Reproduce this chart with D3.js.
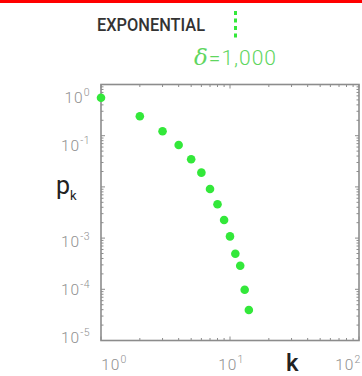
<!DOCTYPE html>
<html>
<head>
<meta charset="utf-8">
<script src="https://cdn.jsdelivr.net/npm/d3@7"></script>
<style>
  html, body { margin: 0; padding: 0; background: #fff; }
  svg { display: block; }
</style>
</head>
<body>
<div id="chart"></div>
<script>
// ── Data ──────────────────────────────────────────────────────────────────────
const kValues = [1, 2, 3, 4, 5, 6, 7, 8, 9, 10, 11, 12, 13, 14];
const pkValues = [0.55, 0.24, 0.122, 0.066, 0.0346, 0.019, 0.0091, 0.00457,
  0.00226, 0.00108, 0.000496, 0.000289, 0.000098, 0.0000393];
const xTickExps = [0, 1, 2];
const yTickExps = [0, -1, -3, -4, -5];
const titleText = 'EXPONENTIAL';
const deltaLabel = '=1,000';

// ── Setup ─────────────────────────────────────────────────────────────────────
const W = 362, H = 376;
const margin = { top: 84.5, right: 3, bottom: 35.5, left: 101 };
const green = '#33e83a';
const axisGrey = '#8c8c8c';
const labelGrey = '#8f8f8f';

const svg = d3.select('#chart').append('svg')
  .attr('width', W)
  .attr('height', H);

const x = d3.scaleLog().domain([1, 100]).range([margin.left, W - margin.right]);
const y = d3.scaleLog().domain([1e-5, 1]).range([H - margin.bottom, margin.top]);
// tick labels sit on a slightly tighter ladder than the ticks themselves
const yLabel = d3.scaleLog().domain([1e-5, 1]).range([343, 103]);
const xLabel = d3.scaleLog().domain([1, 100]).range([114, 348]);

// red strip at top
svg.append('rect')
  .attr('x', 0).attr('y', 0)
  .attr('width', W).attr('height', 3)
  .attr('fill', '#ff0000');

// ── Title ─────────────────────────────────────────────────────────────────────
svg.append('text')
  .attr('x', 97).attr('y', 31)
  .attr('font-family', 'Roboto, sans-serif')
  .attr('font-weight', 500)
  .attr('font-size', 17.5)
  .attr('fill', '#333')
  .attr('textLength', 108)
  .attr('lengthAdjust', 'spacingAndGlyphs')
  .text(titleText);

svg.append('line')
  .attr('x1', 235.5).attr('x2', 235.5)
  .attr('y1', 11).attr('y2', 38)
  .attr('stroke', green)
  .attr('stroke-width', 3)
  .attr('stroke-dasharray', '4,3.5');

const dt = svg.append('text')
  .attr('x', 194).attr('y', 65)
  .attr('font-family', 'Roboto, sans-serif')
  .attr('font-weight', 300)
  .attr('font-size', 21)
  .attr('fill', '#5fd65f')
  .attr('textLength', 82)
  .attr('lengthAdjust', 'spacing');
dt.append('tspan').attr('font-style', 'italic').attr('font-family', 'DejaVu Serif, serif').attr('font-size', 23).text('δ');
dt.append('tspan').text(deltaLabel);

// ── Frame + ticks ─────────────────────────────────────────────────────────────
const [x0, x1] = x.range();
const [y0, y1] = y.range();   // y0 = bottom, y1 = top

svg.append('rect')
  .attr('x', x0).attr('y', y1)
  .attr('width', x1 - x0).attr('height', y0 - y1)
  .attr('fill', 'none')
  .attr('stroke', axisGrey)
  .attr('stroke-width', 1.6);

const tickG = svg.append('g')
  .attr('stroke', axisGrey)
  .attr('stroke-width', 1);

function logTicks(domain) {
  const t = [];
  const lo = Math.round(Math.log10(domain[0])), hi = Math.round(Math.log10(domain[1]));
  for (let e = lo; e < hi; e++) {
    for (let m = 1; m < 10; m++) t.push({ v: m * Math.pow(10, e), major: m === 1 });
  }
  t.push({ v: Math.pow(10, hi), major: true });
  return t;
}

logTicks(x.domain()).forEach(t => {
  const px = x(t.v), len = t.major ? 4 : 2.5;
  tickG.append('line').attr('x1', px).attr('x2', px).attr('y1', y0).attr('y2', y0 - len);
  tickG.append('line').attr('x1', px).attr('x2', px).attr('y1', y1).attr('y2', y1 + len);
});
logTicks(y.domain()).forEach(t => {
  const py = y(t.v), len = t.major ? 4 : 2.5;
  tickG.append('line').attr('x1', x0).attr('x2', x0 + len).attr('y1', py).attr('y2', py);
  tickG.append('line').attr('x1', x1).attr('x2', x1 - len).attr('y1', py).attr('y2', py);
});

// ── Tick labels ───────────────────────────────────────────────────────────────
function powerLabel(g, px, py, exp, anchor) {
  const t = g.append('text')
    .attr('x', px).attr('y', py)
    .attr('text-anchor', anchor)
    .attr('font-family', 'Roboto, sans-serif')
    .attr('font-weight', 300)
    .attr('font-size', 15.5)
    .attr('letter-spacing', 1)
    .attr('fill', labelGrey);
  t.append('tspan').text('10');
  t.append('tspan').attr('font-size', 10.5).attr('dy', -7).attr('letter-spacing', 0.5).text(exp);
  return t;
}

const labelG = svg.append('g');
xTickExps.forEach(e => powerLabel(labelG, xLabel(Math.pow(10, e)), 370, String(e), 'middle'));
yTickExps.forEach(e => powerLabel(labelG, 90, yLabel(Math.pow(10, e)), e === 0 ? '0' : '-' + (-e), 'end'));

// axis titles
const pk = svg.append('text')
  .attr('x', 56).attr('y', 194)
  .attr('font-family', 'Roboto, sans-serif')
  .attr('font-size', 25)
  .attr('fill', '#222');
pk.append('tspan').text('p');
pk.append('tspan').attr('font-size', 13).attr('dy', 6).text('k');

svg.append('text')
  .attr('x', 286).attr('y', 371)
  .attr('font-family', 'Roboto, sans-serif')
  .attr('font-weight', 500)
  .attr('font-size', 24)
  .attr('fill', '#222')
  .text('k');

// ── Points ────────────────────────────────────────────────────────────────────
svg.append('g')
  .selectAll('circle')
  .data(kValues.map((k, i) => ({ k, p: pkValues[i] })))
  .join('circle')
  .attr('cx', d => x(d.k))
  .attr('cy', d => y(d.p))
  .attr('r', 4.3)
  .attr('fill', green);
</script>
</body>
</html>
